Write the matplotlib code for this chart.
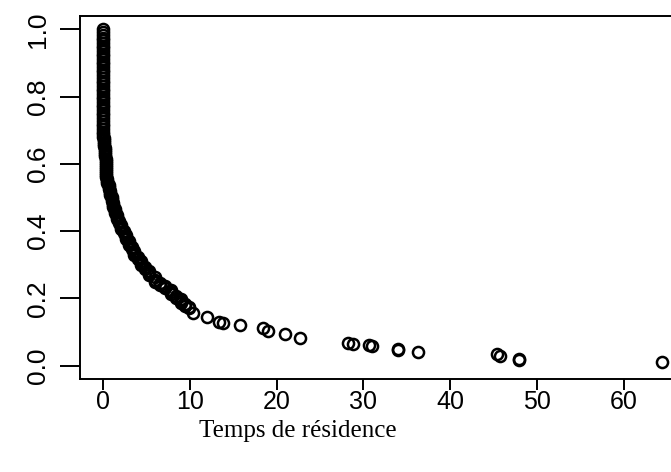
import numpy as np
import matplotlib
matplotlib.use("Agg")
import matplotlib.pyplot as plt

# --- Daten: Temps de résidence (t) et survie observée (groupes d'ex aequo) ---
temps = [0.0, 0.1, 0.2, 0.3, 0.4, 0.5, 0.7, 0.8, 1.0, 1.2, 1.4, 1.6, 1.8,
         2.1, 2.4, 2.7, 3.0, 3.3, 3.6, 4.0, 4.4, 4.8, 5.3, 6.0, 6.6, 7.2,
         7.8, 8.4, 9.0, 9.5, 9.9,
         10.4, 12.0, 13.4, 13.8, 15.8, 18.4, 19.0, 21.0, 22.7, 28.2, 28.8,
         30.7, 31.0, 34.0, 36.3, 45.4, 45.7, 47.9, 64.4]

survie = [
    [1.000, 0.992, 0.984, 0.976, 0.968, 0.960, 0.952, 0.944, 0.936, 0.928,
     0.920, 0.912, 0.904, 0.896, 0.888, 0.880, 0.872, 0.864, 0.856, 0.848,
     0.840, 0.832, 0.824, 0.816, 0.808, 0.800, 0.792, 0.784, 0.776, 0.768,
     0.760, 0.752, 0.744, 0.736, 0.728, 0.720, 0.712, 0.704, 0.696, 0.688,
     0.680],
    [0.676, 0.670, 0.664, 0.658, 0.652],
    [0.646, 0.640, 0.634, 0.628, 0.622],
    [0.616, 0.610, 0.604, 0.598, 0.592, 0.586],
    [0.580, 0.574, 0.568, 0.562],
    [0.556, 0.550, 0.544],
    [0.538, 0.532, 0.526],
    [0.520, 0.514, 0.508],
    [0.502, 0.496, 0.490],
    [0.484, 0.478, 0.472],
    [0.466, 0.460, 0.454],
    [0.448, 0.442, 0.436],
    [0.430, 0.424],
    [0.418, 0.412, 0.406],
    [0.400, 0.394],
    [0.388, 0.382, 0.376],
    [0.370, 0.364, 0.358],
    [0.352, 0.346],
    [0.340, 0.334, 0.328],
    [0.322, 0.316],
    [0.310, 0.304, 0.298],
    [0.292, 0.286],
    [0.280, 0.274, 0.268],
    [0.262, 0.256, 0.250],
    [0.246, 0.240],
    [0.236, 0.230],
    [0.226, 0.220, 0.214],
    [0.208, 0.202],
    [0.198, 0.192, 0.186],
    [0.182, 0.178],
    [0.174, 0.170],
    [0.155], [0.143], [0.131], [0.128], [0.122], [0.113], [0.104],
    [0.095], [0.083], [0.068], [0.063], [0.060], [0.057],
    [0.048, 0.045], [0.039], [0.033], [0.028], [0.019, 0.016], [0.010],
]

x_ticks = [0, 10, 20, 30, 40, 50, 60]
y_ticks = [0.0, 0.2, 0.4, 0.6, 0.8, 1.0]
x_label = "Temps de résidence"

# aplatir les groupes
x = np.concatenate([[t] * len(s) for t, s in zip(temps, survie)])
y = np.concatenate(survie)

fig = plt.figure(figsize=(6.71, 4.72), dpi=100)
ax = fig.add_axes([80 / 671, 1 - 379 / 472, 614 / 671, 363 / 472])

ax.plot(x, y, linestyle="none", marker="o", markerfacecolor="none",
        markeredgecolor="black", markersize=8, markeredgewidth=1.8)

ax.set_xlim(-2.65, 68.1)
ax.set_ylim(-0.04, 1.04)

for sp in ax.spines.values():
    sp.set_linewidth(1.4)
    sp.set_color("black")

ax.set_xticks(x_ticks)
ax.set_xticklabels([str(v) for v in x_ticks])
ax.set_yticks(y_ticks)
ax.set_yticklabels([f"{v:.1f}" for v in y_ticks])

ax.tick_params(axis="x", length=8, width=1.4, pad=0, labelsize=18)
ax.tick_params(axis="y", length=14.5, width=1.4, pad=7, labelsize=19)
for lab in ax.get_xticklabels() + ax.get_yticklabels():
    lab.set_family(["Liberation Sans", "DejaVu Sans"])
for lab in ax.get_yticklabels():
    lab.set_rotation(90)
    lab.set_va("center")

ax.set_xlabel(x_label, family=["Liberation Serif", "DejaVu Serif"],
              fontsize=18, va="center")
ax.xaxis.set_label_coords((298 - 80) / 614, (379 - 431) / 363)

fig.savefig("out.png", dpi=100)
